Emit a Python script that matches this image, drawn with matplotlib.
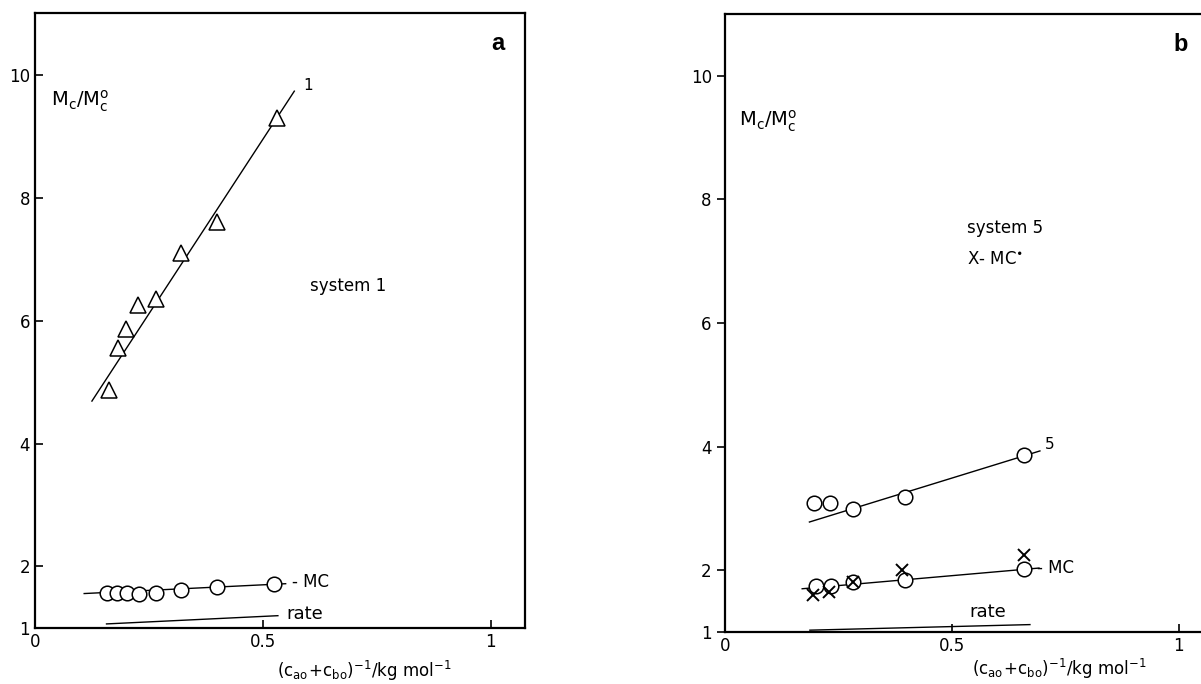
import matplotlib
matplotlib.use("Agg")
import matplotlib.pyplot as plt

# panel a - system 1
a_tri_x = [0.162, 0.182, 0.200, 0.227, 0.265, 0.320, 0.400, 0.530]
a_tri_y = [4.87, 5.56, 5.86, 6.26, 6.35, 7.10, 7.61, 9.30]
a_fit1_x = [0.125, 0.569]
a_fit1_y = [4.69, 9.73]
a_mc_x = [0.157, 0.180, 0.203, 0.228, 0.265, 0.320, 0.400, 0.525]
a_mc_y = [1.575, 1.575, 1.575, 1.56, 1.575, 1.61, 1.67, 1.72]
a_fitmc_x = [0.108, 0.550]
a_fitmc_y = [1.56, 1.72]
a_rate_x = [0.157, 0.533]
a_rate_y = [1.066, 1.20]

# panel b - system 5
b_s5_x = [0.197, 0.232, 0.283, 0.396, 0.660]
b_s5_y = [3.09, 3.09, 2.99, 3.19, 3.86]
b_fit5_x = [0.186, 0.694]
b_fit5_y = [2.78, 3.93]
b_mc_x = [0.200, 0.234, 0.283, 0.396, 0.660]
b_mc_y = [1.74, 1.75, 1.81, 1.84, 2.02]
b_fitmc_x = [0.170, 0.692]
b_fitmc_y = [1.70, 2.035]
b_star_x = [0.193, 0.230, 0.281, 0.391, 0.660]
b_star_y = [1.60, 1.65, 1.81, 2.01, 2.25]
b_rate_x = [0.187, 0.672]
b_rate_y = [1.03, 1.12]

yticks = [1, 2, 4, 6, 8, 10]
xticks = [0, 0.5, 1]
xtick_labels = ['0', '0.5', '1']

ylab = r'$\mathregular{M_c/M_c^o}$'
xlab = r'$\mathregular{(c_{ao}\!+\!c_{bo})^{-1}/kg\ mol^{-1}}$'

fig = plt.figure(figsize=(12.01, 6.84), dpi=100)
ax1 = fig.add_axes([0.0291, 0.0819, 0.408, 0.899])
ax2 = fig.add_axes([0.6037, 0.0760, 0.408, 0.9035])

lw = 1.0
mk = dict(mfc='white', mec='black', mew=1.1, ls='none', zorder=3)

# ---- a ----
ax1.plot(a_fit1_x, a_fit1_y, color='black', lw=lw)
ax1.plot(a_tri_x, a_tri_y, marker='^', ms=11, **mk)
ax1.plot(a_fitmc_x, a_fitmc_y, color='black', lw=lw)
ax1.plot(a_mc_x, a_mc_y, marker='o', ms=10.5, **mk)
ax1.plot(a_rate_x, a_rate_y, color='black', lw=lw)
ax1.text(0.588, 9.82, '1', fontsize=11, va='center')
ax1.text(0.565, 1.74, '- MC', fontsize=12, va='center')
ax1.text(0.552, 1.23, 'rate', fontsize=13, va='center')
ax1.text(0.603, 6.56, 'system 1', fontsize=12, va='center')
ax1.text(0.036, 9.57, ylab, fontsize=14, va='center')
ax1.text(1.03, 10.5, 'a', fontsize=17, fontweight='bold', ha='right',
         va='center', family='Liberation Sans')
ax1.text(0.53, -0.07, xlab, fontsize=12, va='center',
         transform=ax1.get_xaxis_transform())
ax1.set_xlim(0, 1.075)
ax1.set_ylim(1, 11)
ax1.tick_params(axis='both', direction='in', length=6, width=1.2,
                labelsize=12)

# ---- b ----
ax2.plot(b_fit5_x, b_fit5_y, color='black', lw=lw)
ax2.plot(b_s5_x, b_s5_y, marker='o', ms=10.5, **mk)
ax2.plot(b_fitmc_x, b_fitmc_y, color='black', lw=lw)
ax2.plot(b_mc_x, b_mc_y, marker='o', ms=10.5, **mk)
ax2.plot(b_star_x, b_star_y, marker='x', ms=9, mec='black', mew=1.4,
         ls='none', zorder=4)
ax2.plot(b_rate_x, b_rate_y, color='black', lw=lw)
ax2.text(0.706, 4.03, '5', fontsize=11, va='center')
ax2.text(0.688, 2.04, '- MC', fontsize=12, va='center')
ax2.text(0.579, 1.33, 'rate', fontsize=13, va='center', ha='center')
ax2.text(0.534, 7.54, 'system 5', fontsize=12, va='center')
ax2.text(0.534, 7.04, r'X- MC$^{\bullet}$', fontsize=12, va='center')
ax2.text(0.031, 9.26, ylab, fontsize=14, va='center')
ax2.text(1.02, 10.5, 'b', fontsize=17, fontweight='bold', ha='right',
         va='center', family='Liberation Sans')
ax2.text(0.545, -0.06, xlab, fontsize=12, va='center',
         transform=ax2.get_xaxis_transform())
ax2.set_xlim(0, 1.08)
ax2.set_ylim(1, 11)
ax2.tick_params(axis='x', direction='in', length=6, width=1.2, labelsize=12)
ax2.tick_params(axis='y', direction='out', length=6, width=1.2, labelsize=12)

for ax in (ax1, ax2):
    ax.set_xticks(xticks)
    ax.set_xticklabels(xtick_labels)
    ax.set_yticks(yticks)
    for s in ax.spines.values():
        s.set_linewidth(1.6)

fig.savefig('out.png', dpi=100)
